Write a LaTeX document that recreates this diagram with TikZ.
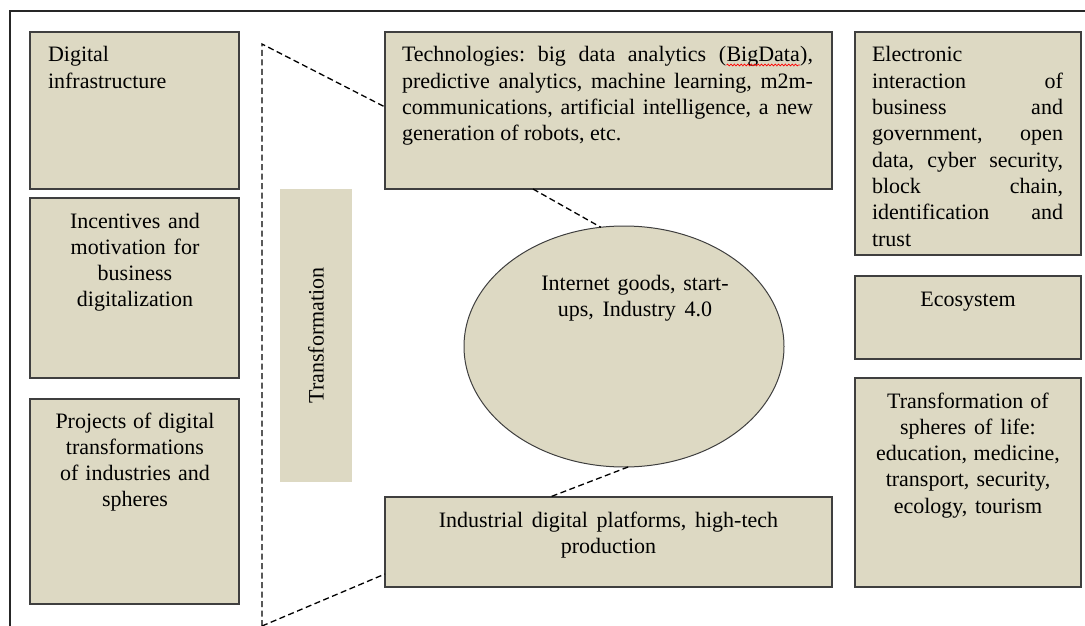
\documentclass[tikz,border=0pt]{standalone}
\usepackage{fontspec}
\setmainfont{Liberation Serif}
\usetikzlibrary{shapes.geometric,decorations.pathmorphing}
\definecolor{panel}{HTML}{DDD9C3}
\definecolor{edge}{HTML}{3F3F3F}

% red wavy underline, as left by a spell checker
\newcommand\spellwave[1]{\tikz[baseline=(sw.base)]{%
  \node[inner sep=0pt,outer sep=0pt] (sw) {#1};%
  \draw[red,line width=0.7pt,decorate,decoration={snake,amplitude=0.9pt,segment length=3.4pt}]
    ([yshift=-3pt]sw.base west) -- ([yshift=-3pt]sw.base east);}}
% font's own (stretchable) interword spaces inside aligned nodes
\newcommand\natsp{\spaceskip=0pt\xspaceskip=0pt\frenchspacing}

\begin{document}
\begin{tikzpicture}[x=1pt,y=-1pt,
  panelbox/.style={rectangle,draw=edge,line width=1.3pt,fill=panel,inner sep=0pt,outer sep=0pt,anchor=north west},
  bandbox/.style={rectangle,fill=panel,inner sep=0pt,outer sep=0pt,anchor=north west},
  oval/.style={ellipse,draw=edge,line width=1pt,fill=panel,inner sep=0pt,outer sep=0pt},
  txt/.style={inner sep=0pt,outer sep=0pt,font=\fontsize{22}{26.3}\selectfont},
  guide/.style={draw=black,line width=1.3pt,dash pattern=on 6pt off 3.5pt}]
\useasboundingbox (0,0) rectangle (1085,626);

% page frame (top and left rules)
\draw[line width=1.5pt,black!85] (1085,11) -- (10,11) -- (10,626);

% left column
\node[panelbox,minimum width=209pt,minimum height=157pt] (di) at (30,32) {};
\node[panelbox,minimum width=209pt,minimum height=180pt] (inc) at (30,198) {};
\node[panelbox,minimum width=209pt,minimum height=205pt] (proj) at (30,399) {};
\node[txt,anchor=base west,text width=185pt,align=left] (ditext) at (48,62) {\natsp Digital\\infrastructure};
\node[txt,anchor=base,text width=200pt,align=center] (inctext) at (135,228) {\natsp Incentives and\\motivation for\\business\\digitalization};
\node[txt,anchor=base,text width=200pt,align=center] (projtext) at (135,428) {\natsp Projects of digital\\transformations\\of industries and\\spheres};

% transformation band
\node[bandbox,minimum width=72pt,minimum height=293pt] (trans) at (280,189) {};
\node[txt,rotate=90] (transtext) at (trans.center) {Transformation};

% centre column
\node[panelbox,minimum width=447pt,minimum height=157pt] (tech) at (385,32) {};
\node[panelbox,minimum width=447pt,minimum height=90pt] (ind) at (385,497) {};
\node[oval,minimum width=320pt,minimum height=241pt] (ell) at (624,346.5) {};
\node[txt,anchor=base west,text width=411pt,align=left] (techtext) at (402,62) {\natsp
  \makebox[411pt][s]{Technologies: big data analytics (\spellwave{BigData}),}\\
  \makebox[411pt][s]{predictive analytics, machine learning, m2m-}\\
  \makebox[411pt][s]{communications, artificial intelligence, a new}\\
  generation of robots, etc.};
\node[txt,anchor=base,text width=440pt,align=center] (indtext) at (608.5,527) {\natsp Industrial digital platforms, high-tech\\production};
\node[txt,anchor=base,text width=260pt,align=center] (elltext) at (635,290) {\natsp Internet goods, start-\\ups, Industry 4.0};

% right column
\node[panelbox,minimum width=226pt,minimum height=223pt] (elec) at (855,32) {};
\node[panelbox,minimum width=226pt,minimum height=83pt] (eco) at (855,276) {};
\node[panelbox,minimum width=226pt,minimum height=209pt] (life) at (855,378) {};
\node[txt,anchor=base west,text width=191pt,align=left] (electext) at (872,62) {\natsp
  Electronic\\
  \makebox[191pt][s]{interaction of}\\
  \makebox[191pt][s]{business and}\\
  \makebox[191pt][s]{government, open}\\
  \makebox[191pt][s]{data, cyber security,}\\
  \makebox[191pt][s]{block chain,}\\
  \makebox[191pt][s]{identification and}\\
  trust};
\node[txt,anchor=base,text width=215pt,align=center] (ecotext) at (968,306) {\natsp Ecosystem};
\node[txt,anchor=base,text width=215pt,align=center] (lifetext) at (968,408) {\natsp Transformation of\\spheres of life:\\education, medicine,\\transport, security,\\ecology, tourism};

% dashed guide lines
\coordinate (apexT) at (262,44);
\coordinate (apexB) at (262,626);
\draw[guide] (apexB) -- (apexT) -- ([yshift=3.5pt]tech.west);
\draw[guide] (apexB) -- ([yshift=13pt]ind.south west);
\draw[guide] ([xshift=-75.5pt]tech.south) -- (ell.101);
\draw[guide] (ell.-88.5) -- ([xshift=-58.5pt]ind.north);
\end{tikzpicture}
\end{document}
